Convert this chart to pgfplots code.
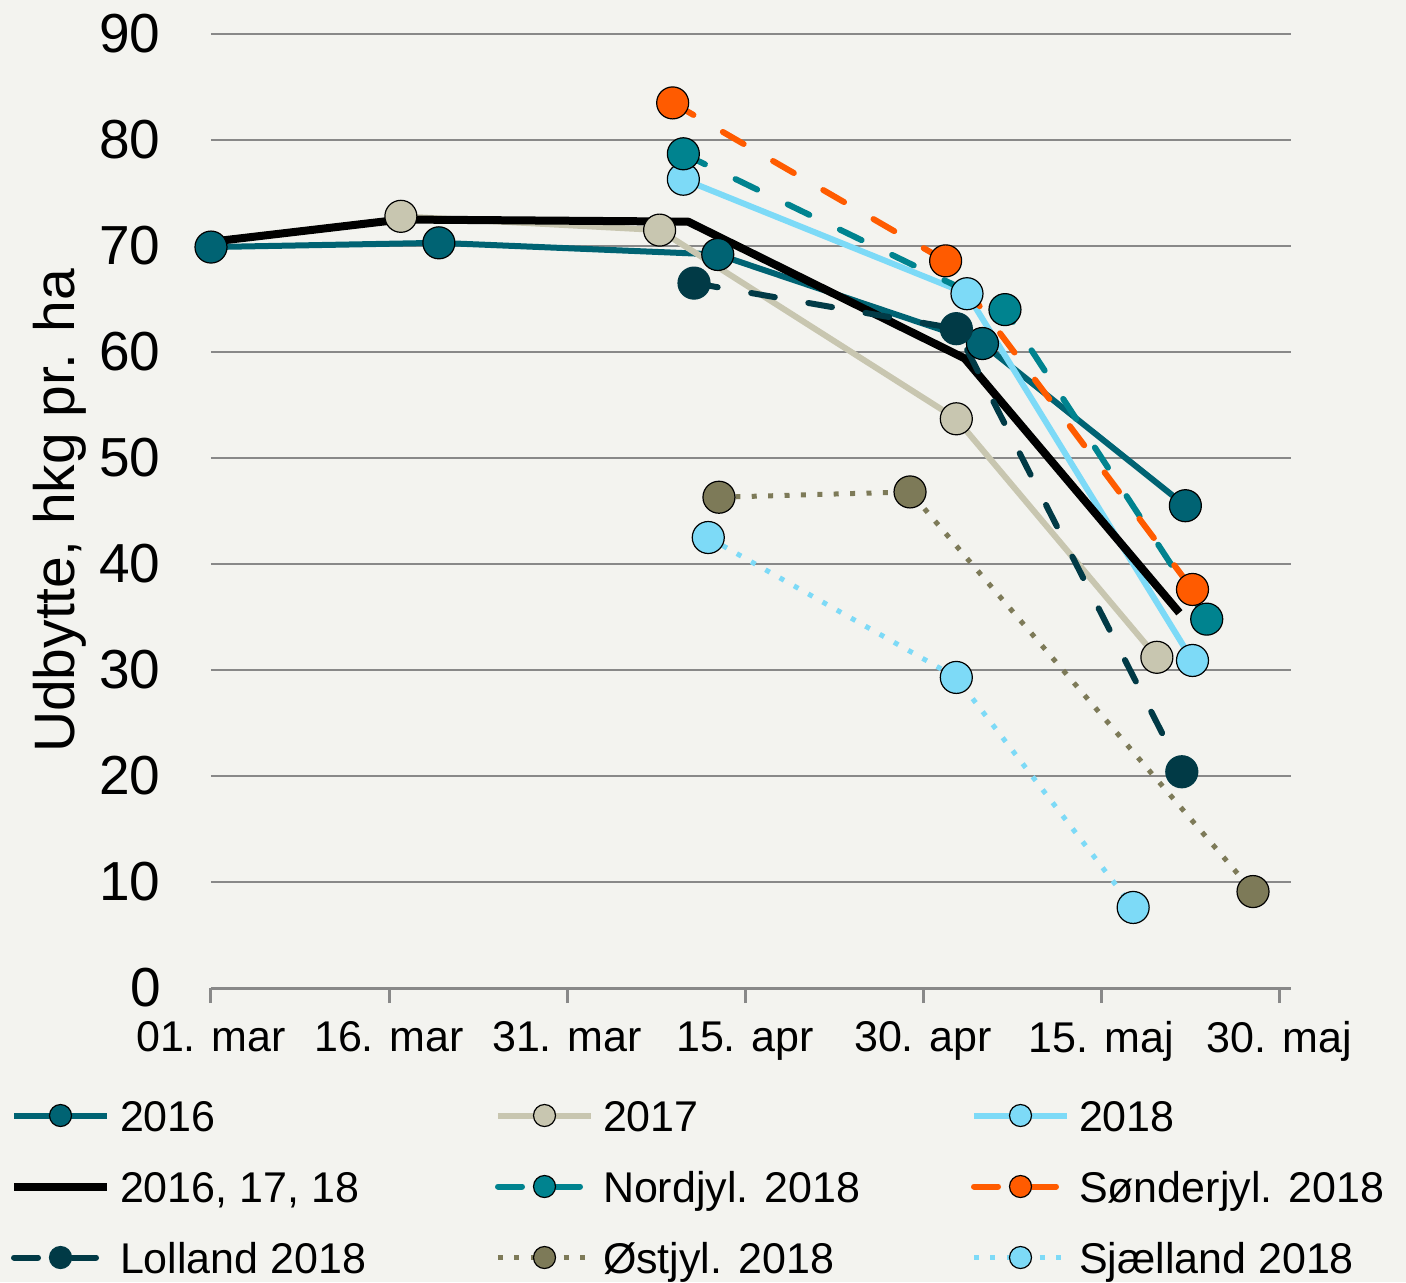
\documentclass[border=0pt]{standalone}
\usepackage{pgfplots}
\pgfplotsset{compat=1.18}
\usepackage{fontspec}
\setmainfont{Liberation Sans}
\definecolor{bg}{RGB}{243,243,239}
\definecolor{gridc}{RGB}{136,136,136}
\definecolor{cA}{RGB}{0,99,115}
\definecolor{cB}{RGB}{200,198,176}
\definecolor{cC}{RGB}{125,218,247}
\definecolor{cN}{RGB}{0,131,143}
\definecolor{cS}{RGB}{255,91,0}
\definecolor{cL}{RGB}{1,58,70}
\definecolor{cO}{RGB}{125,122,88}
\begin{document}
\begin{tikzpicture}
\fill[bg] (-105.5pt,-147pt) rectangle (597.5pt,494pt);
\begin{axis}[
  at={(0,0)}, anchor=south west,
  scale only axis, width=540pt, height=477pt,
  xmin=0, xmax=91, ymin=0, ymax=90,
  clip=false,
  axis x line*=bottom, axis y line*=left,
  y axis line style={draw=none},
  x axis line style={draw=gridc, line width=1.5pt, -},
  xtick={0,15,30,45,60,75,90},
  xticklabels={01. mar,16. mar,31. mar,15. apr,30. apr,15. maj,30. maj},
  ytick={0,10,...,90},
  ymajorgrids,
  major grid style={draw=gridc, line width=1.2pt},
  tick align=outside,
  major tick length=7.5pt,
  xtick style={draw=gridc, line width=1.5pt},
  ytick style={draw=none},
  /pgf/number format/assume math mode=true,
  yticklabel style={anchor=east, inner sep=0pt, xshift=-17.5pt, font=\fontsize{27.5}{30}\selectfont},
  xticklabel style={anchor=north, inner sep=0pt, yshift=-9pt, font=\fontsize{21.5}{24}\selectfont},
  every axis y label/.style={at={(axis description cs:-0.140,0.5)}, rotate=90, anchor=center, font=\fontsize{28.5}{32}\selectfont},
  ylabel={Udbytte, hkg pr. ha},
  legend columns=3,
  legend cell align=left,
  legend style={at={(axis description cs:-0.1861,-0.1174)}, anchor=north west, draw=none, fill=none, inner sep=0pt, outer sep=0pt,
    font=\fontsize{21.5}{26}\selectfont,
    nodes={inner sep=0pt, text height=15.5pt, text depth=0pt},
    /tikz/every odd column/.append style={column sep=4.5pt},
    /tikz/every even column/.append style={column sep=0pt},
    row sep=20pt},
  legend image code/.code={\draw[mark repeat=2,mark phase=2,#1] plot coordinates {(0pt,0pt)(23.25pt,0pt)(46.5pt,0pt)};},
  legend image post style={mark size=5.5pt},
  every axis plot/.append style={line join=round},
]
% 2016
\addplot[color=cA, line width=3pt, mark=*, mark size=8pt, mark options={fill=cA, draw=black, line width=0.6pt, solid}]
  coordinates {(0,69.9) (19.2,70.3) (42.7,69.2) (65.0,60.8) (82.1,45.5)};
\addlegendentry{\makebox[187.5pt][l]{2016}}
% 2017
\addplot[color=cB, line width=3pt, mark=*, mark size=8pt, mark options={fill=cB, draw=black, line width=0.6pt, solid}]
  coordinates {(16.0,72.8) (37.8,71.5) (62.8,53.7) (79.7,31.2)};
\addlegendentry{\makebox[184pt][l]{2017}}
% 2018
\addplot[color=cC, line width=3pt, mark=*, mark size=8pt, mark options={fill=cC, draw=black, line width=0.6pt, solid}]
  coordinates {(39.8,76.3) (63.7,65.5) (82.7,30.9)};
\addlegendentry{\makebox[184pt][l]{2018}}
% average
\addplot[color=black, line width=4pt, no markers]
  coordinates {(0,70.4) (16.0,72.5) (40.2,72.3) (63.5,59.4) (81.6,35.4)};
\addlegendentry{\makebox[187.5pt][l]{2016, 17, 18}}
% Nordjyl
\addplot[color=cN, line width=3pt, line cap=round, dash pattern=on 12pt off 17pt, mark=*, mark size=8pt, mark options={fill=cN, draw=black, line width=0.6pt, solid}]
  coordinates {(39.8,78.7) (66.9,64.0) (83.9,34.8)};
\addlegendentry{\makebox[184pt][l]{Nordjyl. 2018}}
% Sonderjyl
\addplot[color=cS, line width=3pt, line cap=round, dash pattern=on 12pt off 17pt, mark=*, mark size=8pt, mark options={fill=cS, draw=black, line width=0.6pt, solid}]
  coordinates {(38.9,83.5) (61.9,68.6) (82.7,37.6)};
\addlegendentry{\makebox[184pt][l]{Sønderjyl. 2018}}
% Lolland
\addplot[color=cL, line width=3pt, line cap=round, dash pattern=on 12pt off 17pt, mark=*, mark size=8pt, mark options={fill=cL, draw=cL, line width=0.6pt, solid}]
  coordinates {(40.7,66.5) (62.8,62.2) (81.8,20.4)};
\addlegendentry{\makebox[187.5pt][l]{Lolland 2018}}
% Ostjyl
\addplot[color=cO, line width=2.5pt, dash pattern=on 2.5pt off 5.7pt, mark=*, mark size=8pt, mark options={fill=cO, draw=black, line width=0.6pt, solid}]
  coordinates {(42.8,46.3) (58.9,46.8) (87.8,9.1)};
\addlegendentry{\makebox[184pt][l]{Østjyl. 2018}}
% Sjaelland
\addplot[color=cC, line width=2.5pt, dash pattern=on 2.5pt off 5.7pt, mark=*, mark size=8pt, mark options={fill=cC, draw=black, line width=0.6pt, solid}]
  coordinates {(41.9,42.5) (62.8,29.3) (77.7,7.6)};
\addlegendentry{\makebox[184pt][l]{Sjælland 2018}}
\end{axis}
\pgfresetboundingbox
\path[use as bounding box] (-105.5pt,-147pt) rectangle (597.5pt,494pt);
\end{tikzpicture}
\end{document}
